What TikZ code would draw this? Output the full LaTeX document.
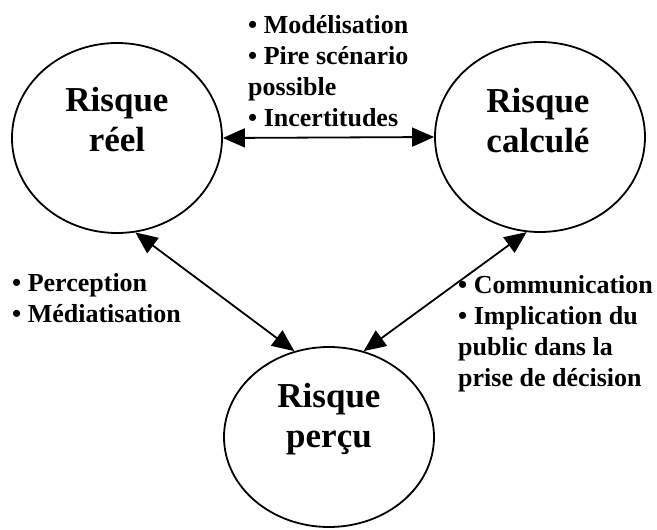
\documentclass[tikz,border=0pt]{standalone}
\usepackage{fontspec}
\setmainfont{Liberation Serif}
\usetikzlibrary{shapes.geometric,arrows.meta}
\begin{document}
\begin{tikzpicture}[x=1pt,y=-1pt,
  risk/.style={draw, line width=1.8pt, ellipse, minimum width=210pt, minimum height=190pt, inner sep=0pt},
  title/.style={align=center, inner sep=0pt, font=\fontsize{35}{40}\selectfont\bfseries},
  lbl/.style={align=left, inner sep=0pt, anchor=north west, font=\fontsize{26}{31}\selectfont\bfseries},
  link/.style={line width=1.8pt, {Triangle[length=22pt,width=19pt]}-{Triangle[length=22pt,width=19pt]}}]
\useasboundingbox (0,0) rectangle (657,530);
\node[risk] (reel) at (117,138) {};
\node[risk] (calc) at (540,137) {};
\node[risk, minimum height=180pt] (percu) at (329,437) {};
\node[title] (reelT) at (117,120) {Risque\\réel};
\node[title] (calcT) at (538,120.5) {Risque\\calculé};
\node[title] (percuT) at (329,419) {Risque\\perçu};
\draw[link] (reel.east) -- (calc.west);
\draw[link] (reel.-79) -- (percu.112);
\draw[link] (calc.-98) -- (percu.68);
\node[lbl] (top) at (248,15) {• Modélisation\\• Pire scénario\\possible\\• Incertitudes};
\node[lbl] (left) at (12,273) {• Perception\\• Médiatisation};
\node[lbl] (right) at (458,275) {• Communication\\• Implication du\\public dans la\\prise de décision};
\end{tikzpicture}
\end{document}
